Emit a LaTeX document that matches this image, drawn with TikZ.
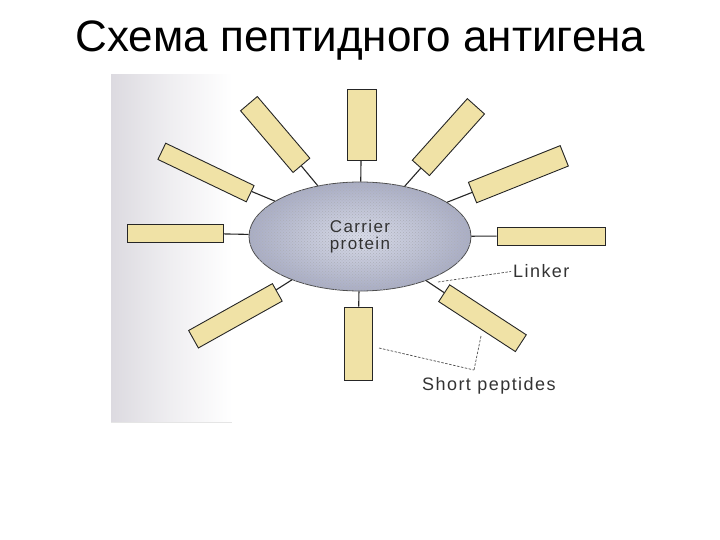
\documentclass[tikz,border=0pt]{standalone}
\usepackage{fontspec}
\setmainfont{Liberation Sans}
\newfontfamily\labfont[LetterSpace=8]{Liberation Sans}
\usetikzlibrary{shapes.geometric,patterns}
\definecolor{pepfill}{HTML}{F0E2A6}
\definecolor{carrin}{HTML}{DADDEA}
\definecolor{carrout}{HTML}{A9ADC4}
\definecolor{scangray}{HTML}{DCDAE0}
\tikzset{
  pep/.style={draw=black!85, line width=0.9pt, fill=pepfill, rectangle, inner sep=0pt},
  linkline/.style={draw=black!85, line width=1.1pt},
  callout/.style={draw=black!70, line width=0.7pt, dash pattern=on 2.5pt off 1.5pt},
  lab/.style={text=black!80, font=\labfont\fontsize{18}{20}\selectfont, inner sep=0pt},
}
\begin{document}
\begin{tikzpicture}[x=1pt,y=-1pt]
\useasboundingbox (0,0) rectangle (720,540);
% scanned page background
\shade[left color=scangray, right color=white, middle color=scangray!45] (111,75) rectangle (232,422);
\draw[black!10, line width=0.6pt] (111,422) -- (232,422);
% title
\node[anchor=base, font=\fontsize{44}{50}\selectfont, inner sep=0pt] (title) at (360.5,52) {Схема пептидного антигена};
% carrier protein
\node[ellipse, draw=black!70, line width=0.8pt, minimum width=222pt, minimum height=109pt, inner sep=0pt,
      inner color=carrin, outer color=carrout, align=center,
      postaction={pattern=crosshatch dots, pattern color=carrout!70!black!60},
      font=\labfont\fontsize{17}{17}\selectfont, text=black!80] (carrier) at (360,236.5) {Carrier\\protein};
% peptides
\node[pep, minimum width=71pt, minimum height=29pt, rotate=90]    (p1) at (361.5,124.5) {};
\node[pep, minimum width=81pt, minimum height=22pt, rotate=-49.6] (p2) at (275.2,134.5) {};
\node[pep, minimum width=98pt, minimum height=18pt, rotate=-25.6] (p3) at (206,172.5) {};
\node[pep, minimum width=96pt, minimum height=18pt]               (p4) at (175,233) {};
\node[pep, minimum width=96pt, minimum height=20pt, rotate=29.2]  (p5) at (235.4,315.8) {};
\node[pep, minimum width=73pt, minimum height=28pt, rotate=90]    (p6) at (358,343.5) {};
\node[pep, minimum width=91.5pt, minimum height=20pt, rotate=-33.1] (p7) at (482.5,318.2) {};
\node[pep, minimum width=108pt, minimum height=18pt]              (p8) at (551,236) {};
\node[pep, minimum width=98.8pt, minimum height=22pt, rotate=21.8] (p9) at (518.4,174.2) {};
\node[pep, minimum width=82.6pt, minimum height=23pt, rotate=48.2] (p10) at (448.4,137.1) {};
% linkers
\foreach \p in {p1,p2,p3,p4,p5,p6,p7,p8,p9,p10}
  \draw[linkline] (\p) -- (carrier);
% labels
\node[lab, anchor=west] (linker) at (513,271.5) {Linker};
\node[lab, anchor=north west] (short) at (422,377) {Short peptides};
\coordinate (lk) at (438,282);
\coordinate (sp) at (474,370);
\coordinate (spa) at (379,348);
\coordinate (spb) at (481,336);
\draw[callout] (lk) -- ([xshift=-2pt]linker.west);
\draw[callout] (spa) -- (sp);
\draw[callout] (spb) -- (sp);
\end{tikzpicture}
\end{document}
